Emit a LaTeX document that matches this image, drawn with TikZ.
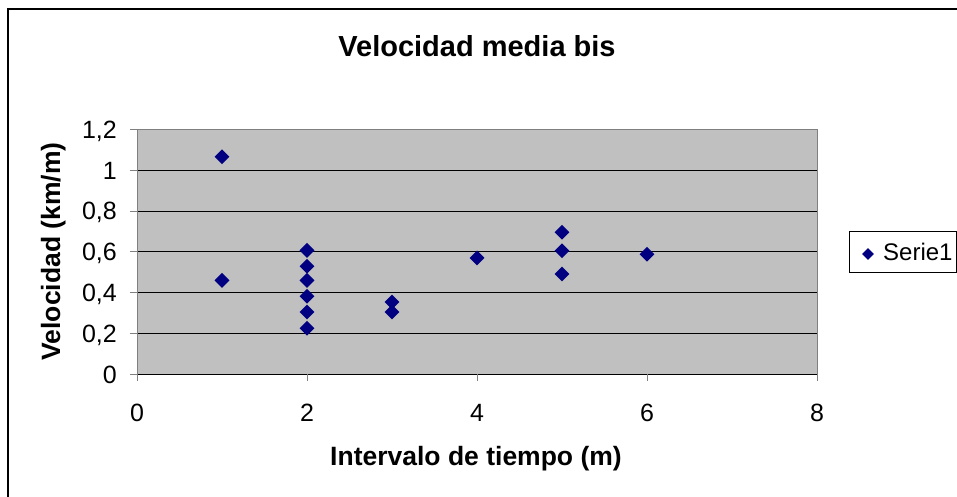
\documentclass[tikz,border=0pt]{standalone}
\usepackage{fontspec}
\setmainfont{Liberation Sans}
\usetikzlibrary{shapes.geometric}

\definecolor{plotgray}{RGB}{192,192,192}
\definecolor{axisgray}{RGB}{128,128,128}
\definecolor{marknavy}{RGB}{0,0,128}

\begin{document}
\begin{tikzpicture}[x=1pt,y=-1pt,
    datapt/.style={shape=diamond, fill=marknavy, inner sep=0pt, minimum size=15pt},
    ticklbl/.style={font=\fontsize{25}{30}\selectfont, inner sep=0pt},
    axlbl/.style={font=\bfseries\fontsize{26.5}{31}\selectfont, inner sep=0pt}]

    \useasboundingbox (0,0) rectangle (957,497);

    % Outer frame (cut at right and bottom)
    \draw[line width=2pt] (8,497) -- (8,9) -- (957,9);

    % Title
    \node[font=\bfseries\fontsize{29}{34}\selectfont, inner sep=0pt, anchor=base] (title) at (477,57) {Velocidad media bis};

    % Plot area in data units: 1 unit = 85px in x, 204px in y
    \begin{scope}[shift={(137,374)}, x=85pt, y=204pt]
    \fill[plotgray] (0,0) rectangle (8,1.2);
    \foreach \g in {0.2,0.4,...,1.0}
        \draw[black] (0,\g) -- (8,\g);
    \draw[axisgray] (0,0) -- (0,1.2) -- (8,1.2) -- (8,0);
    \draw[black] (0,0) -- (8,0);

    % Ticks and their labels
    \foreach \v/\t in {0/0,0.2/{0,2},0.4/{0,4},0.6/{0,6},0.8/{0,8},1/1,1.2/{1,2}} {
        \draw[axisgray] (0,\v) -- ++(-7pt,0);
        \node[ticklbl, anchor=base east] (yt\v) at ([xshift=-20pt,yshift=-9pt]0,\v) {\t};
    }
    \foreach \u in {0,2,4,6,8} {
        \draw[axisgray] (\u,0) -- ++(0,-7pt);
        \node[ticklbl, anchor=base] (xt\u) at ([yshift=-47pt]\u,0) {\u};
    }

    % Data points (Serie1)
    \foreach \px/\py [count=\k] in {1/1.065,1/0.459,2/0.606,2/0.528,2/0.459,2/0.381,2/0.304,2/0.224,
                                    3/0.353,3/0.304,4/0.569,5/0.695,5/0.604,5/0.490,6/0.587}
        \node[datapt] (d\k) at (\px,\py) {};
    \end{scope}

    % Axis titles
    \node[axlbl, anchor=base] (xlabel) at (476,465) {Intervalo de tiempo (m)};
    \node[axlbl, anchor=base, rotate=90] (ylabel) at (60,251.5) {Velocidad (km/m)};

    % Legend
    \draw[black] (849,231) rectangle (956,272);
    \node[datapt, minimum size=12pt] (legmark) at (868,254) {};
    \node[ticklbl, anchor=base west, font=\fontsize{24}{29}\selectfont] (legtext) at (883,260) {Serie1};

\end{tikzpicture}
\end{document}
